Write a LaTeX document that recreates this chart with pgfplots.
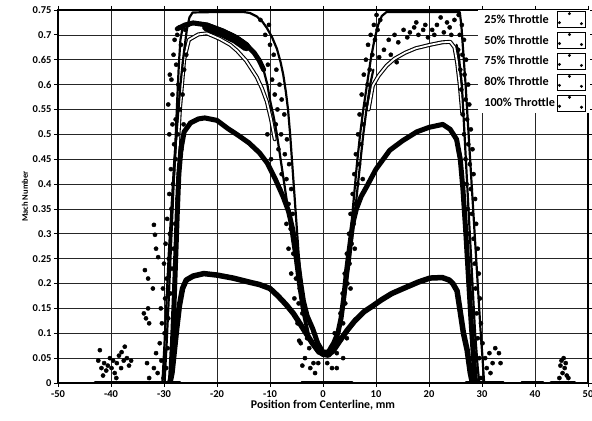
\documentclass[border=0pt]{standalone}
\usepackage{fontspec}
\setmainfont{Carlito}
\usepackage{pgfplots}
\pgfplotsset{compat=1.18}
\pgfplotsset{
  band/.style={black, line join=round, line cap=round, no marks, forget plot},
  noise/.style={only marks, mark=*, mark size=2.1pt, black, forget plot},
  boxleg/.style={legend image code/.code={
    \draw[black,line width=0.9pt,fill=white] (0pt,-8pt) rectangle (28pt,8pt);
    \fill[black] (12pt,6pt) circle (1.3pt);
    \fill[black] (2pt,-3pt) circle (1.3pt);
    \fill[black] (24pt,-4pt) circle (1.3pt);}},
}
\begin{document}
\begin{tikzpicture}
\begin{axis}[name=ax, scale only axis, width=530pt, height=373pt,
  xmin=-50, xmax=50, ymin=0, ymax=0.75,
  xtick={-50,-40,-30,-20,-10,0,10,20,30,40,50},
  ytick={0,0.05,0.1,0.15,0.2,0.25,0.3,0.35,0.4,0.45,0.5,0.55,0.6,0.65,0.7,0.75},
  grid=major, major grid style={black!85, line width=0.7pt},
  axis line style={black, line width=1.2pt},
  tick align=outside, tick style={black, line width=0.8pt}, major tick length=4pt,
  /pgf/number format/assume math mode=true,
  ticklabel style={font=\fontsize{10.5}{11}\selectfont\bfseries},
  yticklabel style={/pgf/number format/fixed,/pgf/number format/precision=2, xshift=1pt},
  xlabel={Position from Centerline, mm}, ylabel={Mach Number},
  xlabel style={font=\fontsize{11.8}{13}\selectfont\bfseries, yshift=4pt},
  ylabel style={font=\fontsize{8.5}{10}\selectfont\bfseries, yshift=-2pt},
  legend plot pos=right, legend cell align=left,
  legend style={at={(1.004,1)}, anchor=north east, draw=none, fill=white,
    inner xsep=4pt, inner ysep=1pt, row sep=4pt,
    font=\fontsize{12.2}{13}\selectfont\bfseries,
    /tikz/every even column/.append style={column sep=8pt}},
]
% zero segments
\addplot[band, line width=2.5pt] coordinates {(-43,0.002) (-27,0.002)};
\addplot[band, line width=2.5pt] coordinates {(-4,0.002) (5.5,0.002)};
\addplot[band, line width=2.5pt] coordinates {(27,0.002) (34,0.002)};
\addplot[band, line width=2.5pt] coordinates {(37.5,0.002) (41.5,0.002)};
\addplot[band, line width=2.5pt] coordinates {(43,0.002) (47.5,0.002)};
% 80% : hollow double line
\addplot[band, line width=4pt] coordinates {(-27.8,0.4) (-27,0.55) (-26.2,0.65) (-25.3,0.69) (-23.5,0.701) (-21.9,0.703) (-19.5,0.692) (-17.5,0.68) (-16.2,0.668) (-14.5,0.648) (-12.5,0.615) (-11.5,0.592) (-10.6,0.566) (-9.8,0.53) (-9.1,0.49)};
\addplot[band, white, line width=1.8pt] coordinates {(-27.8,0.4) (-27,0.55) (-26.2,0.65) (-25.3,0.69) (-23.5,0.701) (-21.9,0.703) (-19.5,0.692) (-17.5,0.68) (-16.2,0.668) (-14.5,0.648) (-12.5,0.615) (-11.5,0.592) (-10.6,0.566) (-9.8,0.53) (-9.1,0.49)};
\addplot[band, line width=4pt] coordinates {(8.6,0.55) (9.4,0.598) (10.5,0.618) (12,0.638) (13.5,0.652) (15.5,0.664) (17.5,0.673) (20.2,0.68) (22.5,0.685) (24,0.686) (24.8,0.675) (25.3,0.645) (25.8,0.6) (26.3,0.54)};
\addplot[band, white, line width=1.8pt] coordinates {(8.6,0.55) (9.4,0.598) (10.5,0.618) (12,0.638) (13.5,0.652) (15.5,0.664) (17.5,0.673) (20.2,0.68) (22.5,0.685) (24,0.686) (24.8,0.675) (25.3,0.645) (25.8,0.6) (26.3,0.54)};
% 100%
\addplot[band, line width=2.2pt] coordinates {(-30.3,0) (-29.9,0.08) (-29.5,0.17) (-29.1,0.26) (-28.6,0.35) (-28.1,0.44) (-27.5,0.52) (-26.9,0.6) (-26.3,0.66) (-25.7,0.71) (-25.2,0.735) (-24.6,0.745) (-20,0.746) (-15,0.746) (-13.8,0.744) (-12.5,0.737) (-11.4,0.726) (-10.6,0.714) (-9.6,0.695) (-8.7,0.672) (-8,0.645) (-7.5,0.62) (-7,0.585) (-6.6,0.55) (-6.2,0.5) (-5.8,0.44) (-5.4,0.38) (-5,0.32) (-4.6,0.26) (-4.1,0.2) (-3.5,0.14) (-2.6,0.095) (-1.5,0.07) (0,0.055) (1.3,0.06) (2.4,0.08) (3.3,0.12) (4,0.17) (4.6,0.23) (5.2,0.3) (5.8,0.37) (6.4,0.44) (7,0.5) (7.6,0.55) (8.3,0.6) (9,0.65) (9.7,0.69) (10.4,0.72) (11.1,0.738) (12,0.746) (20,0.746) (25.8,0.746) (26.1,0.72) (26.5,0.66) (26.9,0.6) (27.3,0.53) (27.7,0.46) (28.1,0.39) (28.5,0.32) (28.9,0.25) (29.3,0.18) (29.7,0.11) (30.1,0.05) (30.4,0)};
% 75%
\addplot[band, line width=2.2pt] coordinates {(-29.9,0) (-29.5,0.08) (-29.1,0.17) (-28.7,0.27) (-28.3,0.37) (-27.9,0.47) (-27.5,0.57) (-27.2,0.64) (-26.9,0.69) (-26.5,0.714) (-25.5,0.72) (-24.5,0.724) (-23,0.724) (-21,0.718) (-19,0.71) (-17,0.701) (-15,0.688) (-13.8,0.676) (-12.5,0.656) (-11.3,0.633) (-10.5,0.6) (-10,0.569) (-9.3,0.535) (-8.7,0.5) (-8,0.45) (-7.3,0.4) (-6.6,0.35) (-6,0.3) (-5.3,0.25) (-4.7,0.2) (-4,0.15) (-3.2,0.11) (-2.2,0.08) (-1,0.06) (0,0.055) (1,0.056) (2,0.07) (3,0.1) (3.8,0.15) (4.5,0.2) (5.1,0.25) (5.6,0.3) (6.1,0.35) (6.6,0.4) (7.1,0.45) (7.6,0.5) (8.2,0.55) (8.9,0.6) (9.5,0.63)};
\addplot[band, line width=2.2pt] coordinates {(25.2,0.68) (25.6,0.66) (26.2,0.6) (26.7,0.5) (27.2,0.4) (27.7,0.3) (28.2,0.2) (28.7,0.1) (29.2,0.03) (29.5,0)};
\addplot[band, line width=5pt] coordinates {(-27.5,0.712) (-26,0.72) (-24.5,0.724) (-22,0.72) (-19,0.708) (-16.5,0.695) (-14.5,0.68) (-13,0.664) (-12,0.648) (-11.2,0.63)};
\addplot[band, line width=9pt] coordinates {(-22,0.716) (-19,0.704) (-16.5,0.691) (-14.5,0.676)};
% 50%
\addplot[band, line width=5pt] coordinates {(-28.8,0) (-28.4,0.08) (-28.1,0.16) (-27.8,0.25) (-27.5,0.34) (-27.2,0.42) (-26.8,0.47) (-26.2,0.505) (-25,0.523) (-23.5,0.531) (-22.3,0.533) (-20,0.528) (-18,0.512) (-16,0.498) (-14,0.483) (-12,0.463) (-10.5,0.442) (-9,0.41) (-7.5,0.374) (-6.5,0.345) (-5.7,0.308) (-4.9,0.255) (-4.2,0.2) (-3.7,0.165) (-3,0.135) (-1.9,0.108) (-1,0.08) (0,0.062) (1,0.062) (2,0.08) (2.8,0.1) (3.4,0.13) (3.9,0.17) (4.5,0.23) (5.1,0.28) (5.6,0.32) (6.3,0.35) (7.2,0.375) (8.3,0.396) (10,0.43) (12.6,0.468) (15,0.487) (17.7,0.505) (20,0.514) (22.6,0.52) (24,0.51) (25.2,0.49) (25.9,0.45) (26.4,0.39) (26.9,0.31) (27.4,0.22) (27.9,0.13) (28.4,0.05) (28.8,0)};
% 25%
\addplot[band, line width=5.5pt] coordinates {(-28.9,0) (-28.5,0.02) (-28.1,0.06) (-27.6,0.11) (-27.1,0.155) (-26.5,0.19) (-25.8,0.207) (-24.5,0.215) (-22.5,0.22) (-20,0.217) (-17,0.211) (-14,0.203) (-12,0.198) (-10,0.19) (-8.5,0.175) (-7,0.158) (-5.6,0.14) (-4.5,0.122) (-3.2,0.1) (-2,0.08) (-1,0.066) (0,0.058) (1,0.056) (2,0.066) (3.2,0.085) (4.5,0.105) (6,0.125) (7.7,0.143) (9.4,0.155) (11,0.167) (13,0.18) (15.8,0.193) (18,0.203) (20.2,0.211) (22.5,0.212) (23.8,0.207) (24.5,0.2) (25.3,0.185) (25.8,0.15) (26.5,0.1) (27.2,0.066) (27.8,0.02) (28.2,0)};
% scattered points: left outer band
\addplot[noise] coordinates {(-32.8,0.01) (-31.9,0.03) (-31.2,0.02) (-30.5,0.045) (-31.5,0.06) (-30.1,0.01) (-29.6,0.03) (-30.8,0.08) (-29.9,0.1) (-30.4,0.12) (-29.3,0.07) (-30.6,0.15) (-29.8,0.17) (-29.2,0.13) (-30.2,0.19) (-29.5,0.21) (-28.8,0.18) (-30.0,0.24) (-29.1,0.25) (-28.5,0.23) (-29.7,0.28) (-28.9,0.3) (-28.2,0.27) (-29.4,0.33) (-28.6,0.35) (-27.9,0.32) (-29.0,0.38) (-28.3,0.4) (-27.5,0.37) (-28.7,0.43) (-27.8,0.45) (-27.2,0.42) (-28.1,0.48) (-27.4,0.5) (-26.7,0.47) (-27.8,0.53) (-27.0,0.55) (-26.3,0.52) (-28.4,0.58) (-27.3,0.6) (-26.5,0.58) (-28.9,0.62) (-27.7,0.64) (-26.2,0.63) (-28.2,0.66) (-26.8,0.68) (-25.8,0.66) (-27.5,0.7) (-26.0,0.71) (-25.4,0.72) (-29.2,0.56) (-28.6,0.61) (-28.0,0.69) (-27.1,0.715) (-29.0,0.5) (-28.4,0.52)};
% left inner band
\addplot[noise] coordinates {(-11.8,0.73) (-10.9,0.7) (-10.2,0.72) (-10.0,0.68) (-9.3,0.66) (-10.4,0.64) (-8.8,0.63) (-9.6,0.61) (-8.2,0.6) (-9.1,0.58) (-7.8,0.57) (-8.6,0.55) (-7.3,0.54) (-8.9,0.52) (-7.9,0.5) (-6.8,0.49) (-8.4,0.47) (-7.2,0.46) (-6.4,0.44) (-7.8,0.42) (-6.9,0.41) (-6.0,0.39) (-7.3,0.37) (-6.5,0.36) (-5.7,0.34) (-6.9,0.32) (-6.1,0.31) (-5.3,0.29) (-6.5,0.27) (-5.6,0.26) (-4.9,0.24) (-6.0,0.22) (-5.1,0.21) (-4.4,0.19) (-5.4,0.17) (-4.6,0.16) (-3.9,0.14) (-4.8,0.12) (-3.7,0.11) (-3.0,0.09) (-4.2,0.08) (-2.6,0.07) (-3.4,0.05) (-1.8,0.04) (-2.4,0.03) (-0.9,0.04) (-9.8,0.45) (-8.1,0.39) (-10.5,0.5) (-4.5,0.085) (-3.9,0.035) (-1.5,0.02)};
% right inner band
\addplot[noise] coordinates {(0.8,0.04) (1.7,0.03) (2.6,0.03) (3.8,0.05) (4.5,0.09) (2.6,0.06) (3.1,0.09) (2.2,0.1) (3.8,0.12) (3.3,0.14) (4.2,0.16) (3.7,0.18) (4.6,0.2) (4.1,0.22) (5.0,0.24) (4.5,0.26) (5.4,0.28) (4.9,0.3) (5.8,0.32) (5.2,0.34) (6.1,0.36) (5.6,0.38) (6.5,0.4) (5.9,0.42) (6.8,0.44) (6.2,0.46) (7.2,0.48) (6.6,0.5) (7.6,0.52) (6.9,0.54) (8.0,0.56) (7.3,0.58) (8.4,0.6) (7.7,0.62) (8.8,0.63) (8.1,0.65) (9.3,0.66) (8.5,0.68) (9.8,0.69) (9.0,0.7) (10.3,0.71) (9.6,0.72) (10.8,0.73) (10.1,0.74) (6.0,0.27) (7.5,0.41) (5.2,0.19)};
% right top scatter (75%)
\addplot[noise] coordinates {(10.6,0.655) (11.5,0.67) (12.4,0.69) (13.5,0.7) (14.2,0.685) (15.2,0.71) (15.9,0.695) (16.4,0.705) (17.2,0.715) (18.0,0.7) (18.9,0.71) (19.8,0.695) (20.6,0.71) (21.5,0.72) (22.2,0.735) (22.8,0.705) (23.4,0.725) (24.2,0.7) (24.8,0.73) (12.8,0.66) (13.9,0.645) (17.6,0.725) (19.3,0.72) (21.0,0.7) (23.9,0.715)};
% right outer band
\addplot[noise] coordinates {(25.6,0.74) (26.2,0.72) (25.8,0.7) (26.6,0.69) (25.5,0.67) (26.3,0.66) (27.0,0.65) (25.9,0.63) (26.7,0.62) (27.4,0.6) (26.1,0.59) (26.9,0.57) (27.6,0.56) (26.4,0.54) (27.2,0.53) (27.9,0.51) (26.6,0.5) (27.4,0.48) (28.2,0.47) (26.9,0.45) (27.7,0.44) (28.4,0.42) (27.1,0.4) (27.9,0.39) (28.7,0.37) (27.3,0.35) (28.1,0.34) (28.9,0.32) (27.5,0.3) (28.4,0.29) (29.2,0.27) (27.7,0.25) (28.6,0.24) (29.4,0.22) (27.9,0.2) (28.8,0.19) (29.6,0.17) (28.1,0.15) (29.0,0.14) (29.8,0.12) (28.3,0.1) (29.2,0.09) (30.1,0.08) (28.5,0.06) (29.5,0.05) (30.6,0.05) (31.4,0.06) (32.0,0.04) (30.9,0.03) (28.7,0.02) (29.8,0.01) (31.6,0.02) (32.5,0.07) (33.2,0.06) (33.5,0.04)};
% outliers left
\addplot[noise] coordinates {(-42.1,0.066) (-42.4,0.045) (-41.8,0.03) (-41.3,0.04) (-40.9,0.025) (-40.6,0.035) (-40.2,0.05) (-39.9,0.03) (-39.6,0.045) (-39.3,0.02) (-38.9,0.04) (-38.5,0.055) (-38.1,0.03) (-38.0,0.062) (-37.6,0.045) (-37.4,0.073) (-37.0,0.05) (-36.6,0.035) (-36.2,0.045) (-41.5,0.015) (-39.0,0.01) (-33.2,0.04) (-33.8,0.14) (-33.4,0.13) (-33.0,0.15) (-32.8,0.12) (-33.6,0.227) (-33.0,0.21) (-32.1,0.19) (-31.9,0.318) (-31.7,0.298) (-31.5,0.27) (-31.1,0.253)};
% outliers right
\addplot[noise] coordinates {(45.0,0.045) (45.4,0.05) (44.8,0.035) (45.6,0.03) (45.2,0.02) (46.0,0.015) (44.6,0.01) (45.8,0.04) (46.3,0.01)};
% legend
\addlegendimage{boxleg}
\addlegendimage{boxleg}
\addlegendimage{boxleg}
\addlegendimage{boxleg}
\addlegendimage{boxleg}
\legend{25\% Throttle, 50\% Throttle, 75\% Throttle, 80\% Throttle, 100\% Throttle}
\end{axis}
\pgfresetboundingbox
\path[use as bounding box] ([shift={(-58pt,-38pt)}]ax.south west) rectangle ([shift={(4pt,10pt)}]ax.north east);
\end{tikzpicture}
\end{document}
